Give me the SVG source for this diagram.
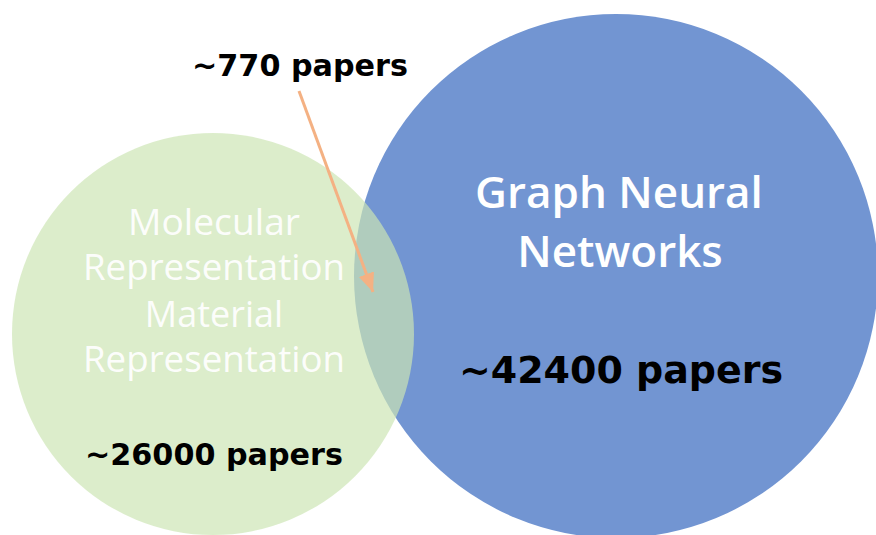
<svg xmlns="http://www.w3.org/2000/svg" width="876" height="535" viewBox="0 0 876 535">
  <defs>
    <style>
      .lbl { font-family: "Open Sans", "Noto Sans", "Liberation Sans", sans-serif; text-anchor: middle; }
      .num { font-family: "DejaVu Sans", "Liberation Sans", sans-serif; text-anchor: middle; fill: #000000; font-weight: 700; }
      .white { fill: #ffffff; }
      .faint { fill: #ffffff; fill-opacity: 0.95; font-weight: 400; }
      .conn { stroke: #f4b183; stroke-width: 3; fill: none; }
    </style>
    <marker id="ah" markerUnits="userSpaceOnUse" markerWidth="20" markerHeight="18" refX="19" refY="8" orient="auto">
      <path d="M0,0 L19,8 L0,16 Z" fill="#f4b183"/>
    </marker>
  </defs>
  <rect width="876" height="535" fill="#ffffff"/>
  <g id="gnn">
    <circle cx="616" cy="276" r="262" fill="#7295d2"/>
    <text class="lbl white" x="619" y="208" font-size="44" font-weight="600">Graph Neural</text>
    <text class="lbl white" x="620" y="267" font-size="44" font-weight="600">Networks</text>
    <text class="num" x="621" y="383" font-size="38" textLength="324" lengthAdjust="spacingAndGlyphs">~42400 papers</text>
  </g>
  <g id="mol">
    <circle cx="213" cy="334" r="201" fill="#cde5b3" fill-opacity="0.69"/>
    <text class="lbl faint" x="214" y="235" font-size="36" textLength="172" lengthAdjust="spacingAndGlyphs">Molecular</text>
    <text class="lbl faint" x="214" y="280" font-size="36" textLength="262" lengthAdjust="spacingAndGlyphs">Representation</text>
    <text class="lbl faint" x="214" y="327" font-size="36">Material</text>
    <text class="lbl faint" x="214" y="372" font-size="36" textLength="262" lengthAdjust="spacingAndGlyphs">Representation</text>
    <text class="num" x="214" y="465" font-size="30" textLength="258" lengthAdjust="spacingAndGlyphs">~26000 papers</text>
  </g>
  <g id="overlap">
    <text class="num" x="300" y="76" font-size="30" textLength="216" lengthAdjust="spacingAndGlyphs">~770 papers</text>
  </g>
  <g id="connectors">
    <line class="conn" x1="299" y1="91" x2="373" y2="292" marker-end="url(#ah)"/>
  </g>
</svg>
